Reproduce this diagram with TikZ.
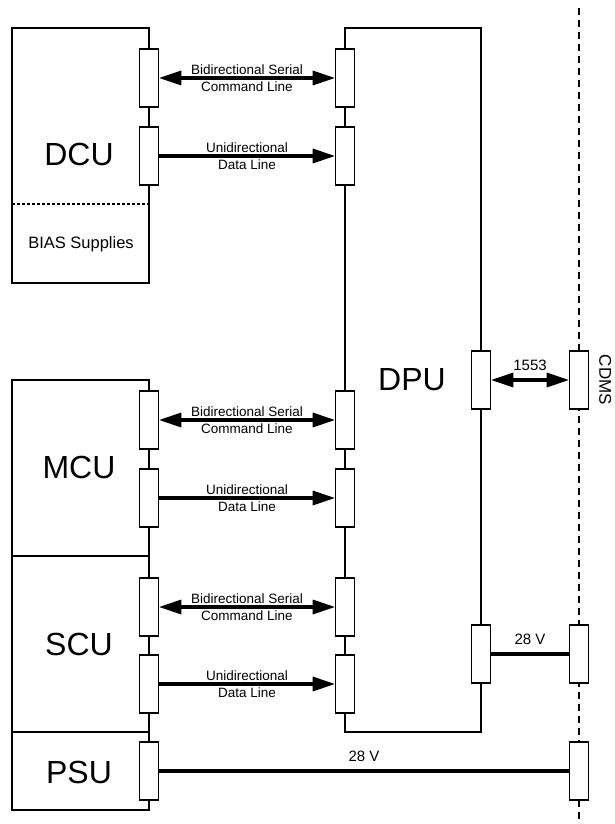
\documentclass[tikz,border=0pt]{standalone}
\usepackage{fontspec}
\setmainfont{Liberation Sans}
\usetikzlibrary{arrows.meta}

\begin{document}
\begin{tikzpicture}[
		x=1pt, y=-1pt,
		line width=1.6pt,
		con/.style  = {draw, fill=white, line width=1.6pt, minimum width=19pt, minimum height=58pt, inner sep=0pt},
		unit/.style = {font=\fontsize{32}{36}\selectfont, inner sep=0pt},
		lbl/.style  = {font=\fontsize{13.5}{17.3}\selectfont, align=center, inner sep=0pt},
		vlt/.style  = {font=\fontsize{15}{18}\selectfont, inner sep=0pt},
		bus/.style  = {line width=3.8pt},
		Head/.tip   = {Triangle[length=22pt, width=15pt, line width=0pt]}
		]
		\useasboundingbox (0,0) rectangle (614,824);
		
		% Unit boxes
		\draw (12,28) rectangle (149,283);
		\draw[densely dashed] (12,204) -- (149,204);
		\draw (12,380) rectangle (149,556);
		\draw (12,556) rectangle (149,732);
		\draw (12,732) rectangle (149,810);
		\draw (345,28) rectangle (481,732);
		\draw[line width=2pt, dash pattern=on 7pt off 5pt] (579,8) -- (579,824);
		
		% Unit names
		\node[unit] (dcuname) at (79,154) {DCU};
		\node[font=\fontsize{16.5}{20}\selectfont, inner sep=0pt] (biasname) at (81,244) {BIAS Supplies};
		\node[unit] (mcuname) at (79,467) {MCU};
		\node[unit] (scuname) at (79,644) {SCU};
		\node[unit] (psuname) at (79,772) {PSU};
		\node[unit] (dpuname) at (412,380) {DPU};
		\node[font=\fontsize{17}{20}\selectfont, rotate=-90, anchor=south, inner sep=0pt] (cdmsname) at (598.5,380) {CDMS};
		
		% Connectors left: units
		\node[con] (dcuA) at (149, 78) {};
		\node[con] (dcuB) at (149,156) {};
		\node[con] (mcuA) at (149,420) {};
		\node[con] (mcuB) at (149,498) {};
		\node[con] (scuA) at (149,607) {};
		\node[con] (scuB) at (149,684) {};
		\node[con] (psuA) at (149,771) {};
		
		% Connectors DPU
		\node[con] (dpuA) at (345, 78) {};
		\node[con] (dpuB) at (345,156) {};
		\node[con] (dpuC) at (345,420) {};
		\node[con] (dpuD) at (345,498) {};
		\node[con] (dpuE) at (345,607) {};
		\node[con] (dpuF) at (345,684) {};
		\node[con] (dpuR) at (481,380) {};
		\node[con] (dpuP) at (481,654) {};
		
		% Connectors right: CDMS
		\node[con] (cdmsA) at (579,380) {};
		\node[con] (cdmsB) at (579,654) {};
		\node[con] (cdmsC) at (579,771) {};
		
		% Lines
		\draw[bus, Head-Head] (dcuA) -- (dpuA) node[lbl, midway] (lineA) {Bidirectional Serial\\Command Line};
		\draw[bus, -Head] (dcuB) -- (dpuB) node[lbl, midway] (lineB) {Unidirectional\\Data Line};
		\draw[bus, Head-Head] (mcuA) -- (dpuC) node[lbl, midway] (lineC) {Bidirectional Serial\\Command Line};
		\draw[bus, -Head] (mcuB) -- (dpuD) node[lbl, midway] (lineD) {Unidirectional\\Data Line};
		\draw[bus, Head-Head] (scuA) -- (dpuE) node[lbl, midway] (lineE) {Bidirectional Serial\\Command Line};
		\draw[bus, -Head] (scuB) -- (dpuF) node[lbl, midway] (lineF) {Unidirectional\\Data Line};
		\draw[bus, Head-Head] (dpuR) -- (cdmsA) node[vlt, midway, above=7.5pt] (lineR) {1553};
		\draw[bus] (dpuP) -- (cdmsB) node[vlt, midway, above=7.5pt] (lineP) {28 V};
		\draw[bus] (psuA) -- (cdmsC) node[vlt, midway, above=7.5pt] (lineQ) {28 V};
	\end{tikzpicture}
\end{document}
